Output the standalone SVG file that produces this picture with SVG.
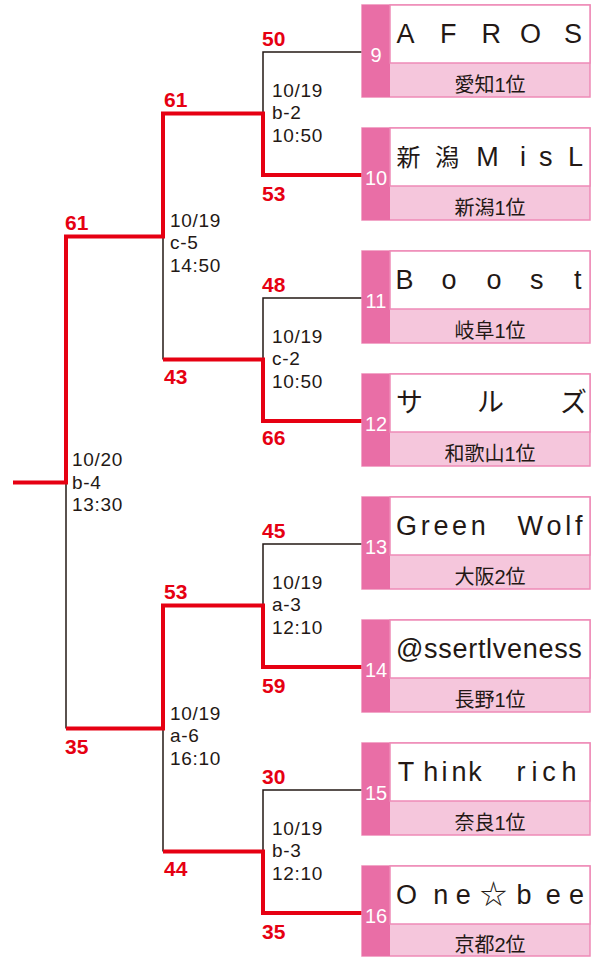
<svg xmlns="http://www.w3.org/2000/svg" width="592" height="957" viewBox="0 0 592 957">
<style>
.bg{fill:#ffffff}
.blk{fill:none;stroke:#231815;stroke-width:1.5}
.red{fill:none;stroke:#e60012;stroke-width:4;stroke-linejoin:miter}
.score{font-family:"Liberation Sans",Arial,sans-serif;font-weight:bold;font-size:21px;fill:#e60012}
.info{font-family:"Liberation Sans",Arial,sans-serif;font-size:19px;letter-spacing:0.7px;fill:#231815}
.outer{fill:#f5c6dc;stroke:#ee8ab7;stroke-width:1.5}
.col{fill:#e96ea6}
.namebox{fill:#ffffff;stroke:#ee8ab7;stroke-width:1.5}
.num{font-family:"Liberation Sans",Arial,sans-serif;font-size:20px;fill:#ffffff;text-anchor:middle}
.name{font-family:"Liberation Sans","Noto Sans CJK JP",sans-serif;font-size:27px;fill:#231815}
.sub{font-family:"Liberation Sans","Noto Sans CJK JP",sans-serif;font-size:20px;fill:#231815;text-anchor:middle}
</style>
<rect class="bg" x="0" y="0" width="592" height="957"/>

<g id="connectors">
  <path class="blk" d="M362,52 H263 V113.5"/>
  <path class="blk" d="M362,298 H263 V359.5"/>
  <path class="blk" d="M362,544 H263 V605.5"/>
  <path class="blk" d="M362,790 H263 V851.5"/>
  <path class="blk" d="M163,359.5 V236.5"/>
  <path class="blk" d="M163,851.5 V728.5"/>
  <path class="blk" d="M66,728.5 V482.5"/>
  <path class="red" d="M362,175 H263 V113.5 H163 V236.5 H66 V482.5 H13"/>
  <path class="red" d="M362,421 H263 V359.5 H163"/>
  <path class="red" d="M362,667 H263 V605.5 H163 V728.5 H66"/>
  <path class="red" d="M362,913 H263 V851.5 H163"/>
</g>

<g id="scores">
  <text class="score" x="262" y="45.5">50</text>
  <text class="score" x="262" y="200.5">53</text>
  <text class="score" x="262" y="291.5">48</text>
  <text class="score" x="262" y="444.5">66</text>
  <text class="score" x="262" y="537.5">45</text>
  <text class="score" x="262" y="692.5">59</text>
  <text class="score" x="262" y="783.5">30</text>
  <text class="score" x="262" y="939">35</text>
  <text class="score" x="164" y="107">61</text>
  <text class="score" x="164" y="384">43</text>
  <text class="score" x="164" y="599">53</text>
  <text class="score" x="164" y="876">44</text>
  <text class="score" x="65" y="230">61</text>
  <text class="score" x="65" y="753.5">35</text>
</g>

<g id="match-b2"><text class="info" x="272" y="96.5">10/19</text><text class="info" x="272" y="119">b-2</text><text class="info" x="272" y="141.5">10:50</text></g>
<g id="match-c2"><text class="info" x="272" y="342.5">10/19</text><text class="info" x="272" y="365">c-2</text><text class="info" x="272" y="387.5">10:50</text></g>
<g id="match-a3"><text class="info" x="272" y="588.5">10/19</text><text class="info" x="272" y="611">a-3</text><text class="info" x="272" y="633.5">12:10</text></g>
<g id="match-b3"><text class="info" x="272" y="834.5">10/19</text><text class="info" x="272" y="857">b-3</text><text class="info" x="272" y="879.5">12:10</text></g>
<g id="match-c5"><text class="info" x="170" y="226.5">10/19</text><text class="info" x="170" y="249">c-5</text><text class="info" x="170" y="271.5">14:50</text></g>
<g id="match-a6"><text class="info" x="170" y="719.5">10/19</text><text class="info" x="170" y="742">a-6</text><text class="info" x="170" y="764.5">16:10</text></g>
<g id="match-b4"><text class="info" x="72" y="466">10/20</text><text class="info" x="72" y="488.5">b-4</text><text class="info" x="72" y="511">13:30</text></g>

<g id="team-9">
  <rect class="outer" x="362" y="5" width="228" height="92"/>
  <rect class="col" x="362" y="5" width="28" height="92"/>
  <rect class="namebox" x="390" y="5" width="200" height="58"/>
  <text class="num" x="376" y="62">9</text>
  <text class="name" x="396.5 440 481.5 520 564" y="43">AFROS</text>
  <text class="sub" x="490" y="92">愛知1位</text>
</g>
<g id="team-10">
  <rect class="outer" x="362" y="128" width="228" height="92"/>
  <rect class="col" x="362" y="128" width="28" height="92"/>
  <rect class="namebox" x="390" y="128" width="200" height="58"/>
  <text class="num" x="376" y="185">10</text>
  <text class="name" x="396.5 435 476.3 520 539 568" y="166"><tspan font-size="24">新潟</tspan>MisL</text>
  <text class="sub" x="490" y="215">新潟1位</text>
</g>
<g id="team-11">
  <rect class="outer" x="362" y="251" width="228" height="92"/>
  <rect class="col" x="362" y="251" width="28" height="92"/>
  <rect class="namebox" x="390" y="251" width="200" height="58"/>
  <text class="num" x="376" y="308">11</text>
  <text class="name" x="395.5 441.5 486.5 530 574" y="289">Boost</text>
  <text class="sub" x="490" y="338">岐阜1位</text>
</g>
<g id="team-12">
  <rect class="outer" x="362" y="374" width="228" height="92"/>
  <rect class="col" x="362" y="374" width="28" height="92"/>
  <rect class="namebox" x="390" y="374" width="200" height="58"/>
  <text class="num" x="376" y="431">12</text>
  <text class="name" x="396 477 560" y="412" font-size="24">サルズ</text>
  <text class="sub" x="490" y="461">和歌山1位</text>
</g>
<g id="team-13">
  <rect class="outer" x="362" y="497" width="228" height="92"/>
  <rect class="col" x="362" y="497" width="28" height="92"/>
  <rect class="namebox" x="390" y="497" width="200" height="58"/>
  <text class="num" x="376" y="554">13</text>
  <text class="name" x="396 420.7 433.4 452.1 470.8 490 517.5 546.5 565.3 575" y="535">Green Wolf</text>
  <text class="sub" x="490" y="584">大阪2位</text>
</g>
<g id="team-14">
  <rect class="outer" x="362" y="620" width="228" height="92"/>
  <rect class="col" x="362" y="620" width="28" height="92"/>
  <rect class="namebox" x="390" y="620" width="200" height="58"/>
  <text class="num" x="376" y="677">14</text>
  <text class="name" x="396" y="658" letter-spacing="0.7">@ssertlveness</text>
  <text class="sub" x="490" y="707">長野1位</text>
</g>
<g id="team-15">
  <rect class="outer" x="362" y="743" width="228" height="92"/>
  <rect class="col" x="362" y="743" width="28" height="92"/>
  <rect class="namebox" x="390" y="743" width="200" height="58"/>
  <text class="num" x="376" y="800">15</text>
  <text class="name" x="397.7 423.2 441.5 451.5 468.2 486 516.5 531.5 542.3 561.5" y="781">Think rich</text>
  <text class="sub" x="490" y="830">奈良1位</text>
</g>
<g id="team-16">
  <rect class="outer" x="362" y="866" width="228" height="90"/>
  <rect class="col" x="362" y="866" width="28" height="90"/>
  <rect class="namebox" x="390" y="866" width="200" height="58"/>
  <text class="num" x="376" y="923">16</text>
  <text class="name" x="396 433.2 455.7 480 516.5 545.7 569" y="904">One☆bee</text>
  <text class="sub" x="490" y="952">京都2位</text>
</g>
</svg>
